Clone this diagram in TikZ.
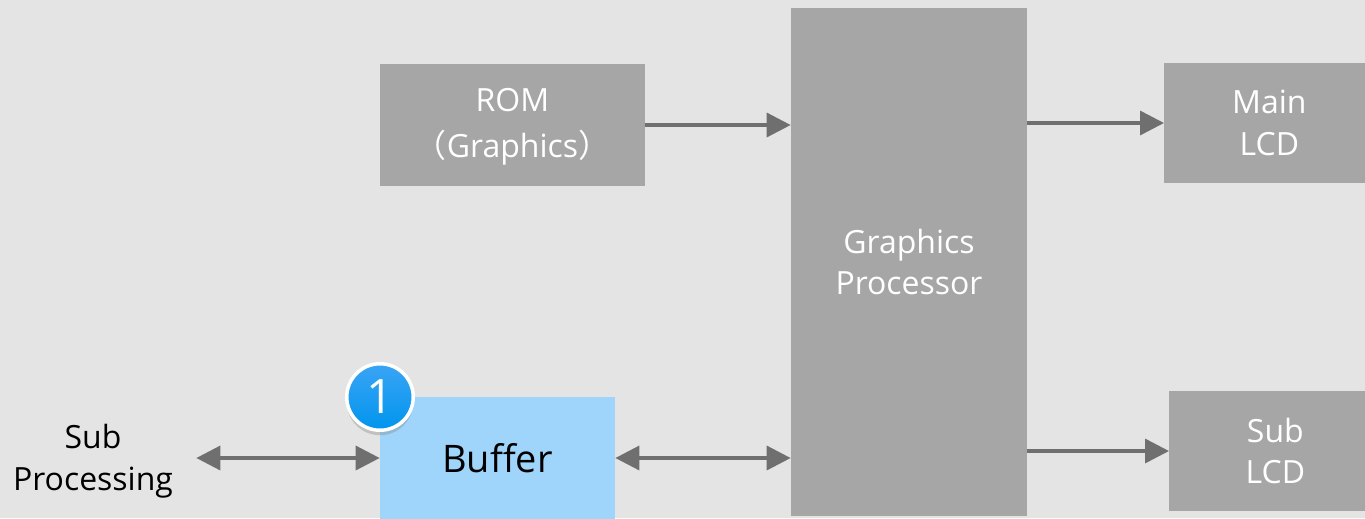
\documentclass[tikz,border=0pt]{standalone}
\usepackage{fontspec}
\setmainfont{Open Sans}
\newfontfamily\cjkfont{Noto Sans CJK SC}
\usetikzlibrary{arrows.meta,positioning,shadows}
\definecolor{pagegray}{HTML}{E4E4E4}
\definecolor{boxgray}{HTML}{A6A6A6}
\definecolor{linegray}{HTML}{6F6F6F}
\definecolor{bufferblue}{HTML}{9FD5FA}
\definecolor{badgetop}{HTML}{3AA4F5}
\definecolor{badgebottom}{HTML}{0095EE}
\tikzset{
    graybox/.style={fill=boxgray, text=white, align=center, font=\fontsize{18.2}{23.9}\selectfont, inner sep=0pt},
    link/.style={draw=linegray, line width=0.07cm, -{Triangle[length=0.48cm,width=0.48cm]}},
    duallink/.style={draw=linegray, line width=0.07cm, {Triangle[length=0.48cm,width=0.48cm]}-{Triangle[length=0.48cm,width=0.48cm]}}
}
\begin{document}
\begin{tikzpicture}[x=0.02cm, y=-0.02cm]
    \useasboundingbox[fill=pagegray] (0,0) rectangle (1365,518);
    \node[graybox, minimum width=5.3cm, minimum height=2.44cm] (rom) at (512.5,125) {\rule{0pt}{15.3pt}ROM\\[2.3pt]{\cjkfont（}Graphics{\cjkfont）}};
    \node[graybox, minimum width=4.72cm, minimum height=10.16cm] (gpu) at (909,262) {Graphics\\Processor};
    \node[graybox, minimum width=4.2cm, minimum height=2.4cm, anchor=west] (mainlcd) at (1164,123) {Main\\LCD};
    \node[graybox, minimum width=4.24cm, minimum height=2.4cm, anchor=west] (sublcd) at (1169,451) {Sub\\LCD};
    \begin{scope}
        \clip (0,0) rectangle (1365,518);
        \node[fill=bufferblue, minimum width=4.7cm, minimum height=2.44cm, font=\fontsize{21.6}{26}\selectfont] (buffer) at (497.5,458) {Buffer};
    \end{scope}
    \node[align=center, minimum width=4.12cm, inner sep=0pt, font=\fontsize{18.2}{23.9}\selectfont] (subproc) at (93,461) {Sub\\Processing};
    \draw[link] (rom.east) -- (rom.east -| gpu.west);
    \draw[link] (mainlcd.west -| gpu.east) -- (mainlcd.west);
    \draw[link] (sublcd.west -| gpu.east) -- (sublcd.west);
    \draw[duallink] (buffer.west -| subproc.east) -- (buffer.west);
    \draw[duallink] (buffer.east) -- (buffer.east -| gpu.west);
    \node[circle, draw=white, line width=0.07cm, top color=badgetop, bottom color=badgebottom, minimum size=1.33cm, inner sep=0pt, text=white,
        drop shadow={shadow xshift=0cm, shadow yshift=-0.1cm, opacity=0.35}, font=\fontsize{27}{34}\selectfont] (badge) at (380,397) {1};
\end{tikzpicture}
\end{document}
